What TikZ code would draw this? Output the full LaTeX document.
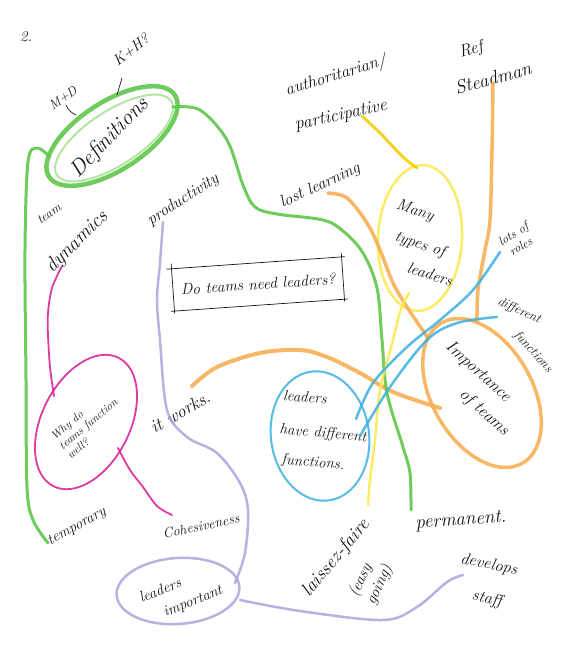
\documentclass[tikz,border=0pt]{standalone}
\usepackage{fontspec}
\usetikzlibrary{shapes.geometric}

\definecolor{mkgreen}{RGB}{92,198,70}
\definecolor{mkgreenlt}{RGB}{170,226,152}
\definecolor{mkpurple}{RGB}{180,164,220}
\definecolor{mkmagenta}{RGB}{218,32,150}
\definecolor{mkorange}{RGB}{246,174,80}
\definecolor{mkyellow}{RGB}{250,234,80}
\definecolor{mkgold}{RGB}{246,204,10}
\definecolor{mkblue}{RGB}{64,178,224}
\definecolor{ink}{RGB}{20,20,20}

\newcommand{\handsize}[1]{\itshape\fontsize{#1}{#1}\selectfont}

\tikzset{
  markerline/.style={line width=#1, line cap=round, line join=round, draw opacity=.88},
  markerline/.default=3pt,
  hand/.style={text=ink, inner sep=1pt, font=\handsize{15}},
  hsize/.style={font=\handsize{#1}},
  oval/.style={ellipse, inner sep=0pt},
  inkline/.style={draw=ink, line width=.7pt, line cap=round},
  sm/.style={smooth, tension=.55},
}

\begin{document}
\begin{tikzpicture}[x=1pt,y=-1pt]
\fill[white] (0,0) rectangle (564,648);
\useasboundingbox (0,0) rectangle (564,648);

% ---------- outlines ----------
\node[oval, draw=mkgreen, markerline=4.5pt, minimum width=150pt, minimum height=68pt, rotate=33] (defs) at (112,136) {};
\node[oval, draw=mkgreenlt, markerline=2pt, minimum width=136pt, minimum height=54pt, rotate=33] (defsin) at (114,138) {};
\node[oval, draw=mkyellow, markerline=2.5pt, minimum width=84pt, minimum height=146pt, rotate=-3] (many) at (420,238) {};
\node[oval, draw=mkorange, markerline=3.5pt, minimum width=162pt, minimum height=100pt, rotate=-60] (imp) at (482,393) {};
\node[oval, draw=mkblue, markerline=2pt, minimum width=98pt, minimum height=130pt, rotate=8] (ldf) at (320,436) {};
\node[oval, draw=mkmagenta, markerline=1.8pt, minimum width=144pt, minimum height=88pt, rotate=63] (why) at (86,422) {};
\node[oval, draw=mkpurple, markerline=2.5pt, minimum width=123pt, minimum height=66pt, rotate=4] (limp) at (178,591) {};

% ---------- texts ----------
\node[hand] (two) at (26,37) {2.};
\node[hand, hsize=13, rotate=35] (md) at (63,98) {M+D};
\node[hand, rotate=38] (kh) at (131,50) {K+H?};
\node[hand, hsize=22, rotate=46] (deftxt) at (110,138) {Definitions};
\node[hand, hsize=13, rotate=35] (team) at (49,214) {team};
\node[hand, hsize=20, rotate=45] (dyn) at (77,242) {dynamics};
\node[hand, hsize=16.5, rotate=33] (prod) at (183,200) {productivity};
\node[hand, hsize=15.5, rotate=4, minimum width=170pt, minimum height=42pt] (q) at (258,284) {Do teams need leaders?};
\node[hand, hsize=17, rotate=17] (auth) at (336,76) {authoritarian/};
\node[hand, hsize=18, rotate=12] (part) at (341,116) {participative};
\node[hand, hsize=17, rotate=15] (ref) at (471,50) {Ref};
\node[hand, hsize=19, rotate=15] (stead) at (493,78) {Steadman};
\node[hand, hsize=16.5, rotate=25] (lost) at (320,186) {lost learning};
\node[hand, hsize=16, rotate=-18] (many1) at (415,211) {Many};
\node[hand, hsize=16, rotate=-18] (many2) at (420,245) {types of};
\node[hand, hsize=16, rotate=-18] (many3) at (430,274) {leaders};
\node[hand, hsize=12.5, rotate=32, align=left] (lots) at (517,240) {lots of\\[2pt]\hspace*{4pt}roles};
\node[hand, hsize=13, rotate=-25] (diff1) at (519,311) {different};
\node[hand, hsize=13, rotate=-48] (diff2) at (533,352) {functions};
\node[hand, hsize=17, rotate=-42] (imp1) at (478,372) {Importance};
\node[hand, hsize=17, rotate=-42] (imp2) at (484,413) {of teams};
\node[hand, rotate=-5] (ldf1) at (305,397) {leaders};
\node[hand, rotate=-5] (ldf2) at (323,434) {have different};
\node[hand, rotate=-5] (ldf3) at (313,463) {functions.};
\node[hand, hsize=18, rotate=30] (works) at (180,412) {it works.};
\node[hand, hsize=11.5, rotate=40, align=left] (whytxt) at (88,424) {Why do\\[1pt]teams function\\[1pt]well?};
\node[hand, rotate=29] (temp) at (77,527) {temporary};
\node[hand, hsize=14, rotate=12] (coh) at (201,526) {Cohesiveness};
\node[hand, rotate=22] (limp1) at (160,590) {leaders};
\node[hand, rotate=22] (limp2) at (193,602) {important};
\node[hand, hsize=19, rotate=50] (lf) at (336,558) {laissez-faire};
\node[hand, hsize=16, rotate=65, align=left] (easy) at (371,581) {(easy\\[2pt]going)};
\node[hand, hsize=19, rotate=4] (perm) at (461,521) {permanent.};
\node[hand, hsize=16.5, rotate=-12] (dev1) at (489,565) {develops};
\node[hand, hsize=16.5, rotate=-12] (dev2) at (487,599) {staff};

% hand-drawn box round the question
\draw[inkline, shorten <=-5pt, shorten >=-3pt] (q.north west) -- (q.north east);
\draw[inkline, shorten <=-4pt, shorten >=-2pt] (q.north east) -- (q.south east);
\draw[inkline, shorten <=-3pt, shorten >=-3pt] (q.south east) -- (q.south west);
\draw[inkline, shorten <=-2pt, shorten >=-5pt] (q.south west) -- (q.north west);

% ---------- attachment points ----------
\coordinate (gL) at (50,157);
\coordinate (gR) at (173,107);
\coordinate (tempA) at (48,543);
\coordinate (permA) at (411,510);
\coordinate (prodA) at (163,222);
\coordinate (limpT) at (235,583);
\coordinate (limpR) at (240,600);
\coordinate (devA) at (463,575);
\coordinate (dynA) at (62,266);
\coordinate (whyL) at (54,396);
\coordinate (whyB) at (118,448);
\coordinate (cohA) at (172,515);
\coordinate (refA) at (493,83);
\coordinate (impT) at (477,322);
\coordinate (lostA) at (328,193);
\coordinate (impTL) at (428,338);
\coordinate (worksA) at (192,386);
\coordinate (impL) at (440,408);
\coordinate (partA) at (362,116);
\coordinate (manyT) at (417,168);
\coordinate (manyB) at (409,293);
\coordinate (lfA) at (368,505);
\coordinate (ldfA) at (356,419);
\coordinate (ldfB) at (360,436);
\coordinate (lotsA) at (500,252);
\coordinate (diffA) at (497,317);
\coordinate (khA) at (122,78);
\coordinate (khB) at (117,95);
\coordinate (mdA) at (66,105);
\coordinate (mdB) at (76,115);

% ---------- connectors ----------
% orange
\draw[mkorange, markerline=3.5pt] plot[sm] coordinates {(refA) (492,150) (490,220) (485,250) (478,290) (impT)};
\draw[mkorange, markerline=3.5pt] plot[sm] coordinates {(lostA) (347,198) (367,223) (380,250) (393,283) (407,307) (impTL)};
\draw[mkorange, markerline=4pt] plot[sm] coordinates {(worksA) (217,367) (260,353) (300,350) (327,357) (360,373) (393,392) (impL)};
% green
\draw[mkgreen, markerline=3pt] plot[sm] coordinates {(gL) (37,148) (28,162) (25,250) (26,380) (27,487) (33,520) (tempA)};
\draw[mkgreen, markerline=3pt] plot[sm] coordinates {(gR) (200,110) (227,140) (243,185) (255,207) (277,214) (323,220) (343,231) (363,253) (377,288) (382,340) (387,393) (403,447) (410,473) (permA)};
% yellow
\draw[mkgold, markerline=3pt] plot[sm] coordinates {(partA) (380,133) (403,157) (manyT)};
\draw[mkyellow, markerline=2.5pt] plot[sm] coordinates {(manyB) (400,312) (393,340) (380,390) (375,440) (370,480) (lfA)};
% blue
\draw[mkblue, markerline=2.5pt] plot[sm] coordinates {(ldfA) (373,383) (407,347) (440,320) (473,290) (lotsA)};
\draw[mkblue, markerline=2.5pt] plot[sm] coordinates {(ldfB) (390,387) (427,340) (457,323) (diffA)};
% magenta
\draw[mkmagenta, markerline=1.8pt] plot[sm] coordinates {(dynA) (52,288) (48,313) (48,335) (50,367) (whyL)};
\draw[mkmagenta, markerline=1.8pt] plot[sm] coordinates {(whyB) (130,470) (143,487) (157,506) (cohA)};
% purple
\draw[mkpurple, markerline=2.5pt] plot[sm] coordinates {(prodA) (160,263) (157,300) (160,340) (167,410) (187,437) (217,453) (240,483) (248,510) (245,553) (limpT)};
\draw[mkpurple, markerline=2.5pt] plot[sm] coordinates {(limpR) (300,611) (383,620) (417,607) (447,582) (devA)};
% ink ticks
\draw[inkline] (khA) -- (khB);
\draw[inkline] (mdA) to[bend right=20] (mdB);

\end{tikzpicture}
\end{document}
